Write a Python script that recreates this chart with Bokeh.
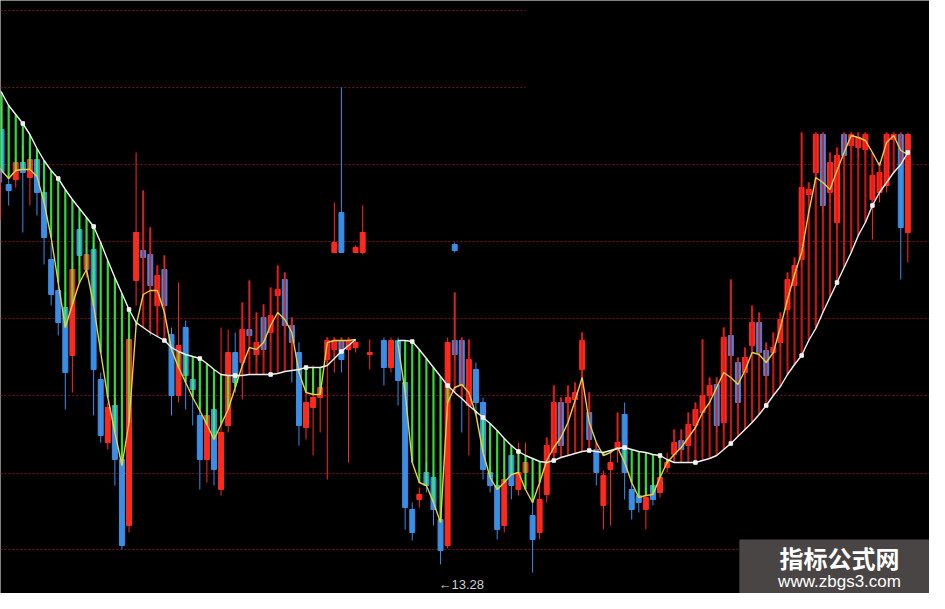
import numpy as np
from bokeh.plotting import figure
from bokeh.models import Range1d, ColumnDataSource, Label, BoxAnnotation
from bokeh.embed import file_html
from bokeh.resources import INLINE

nan = float("nan")

# ---- data (price units) ----
bar_open = [16.73,17.63,17.08,17.13,17.30,17.15,17.33,17.00,16.33,16.02,
 15.85,15.37,16.63,16.23,16.43,15.13,14.50,14.87,14.33,13.67,
 16.12,16.42,16.38,15.87,16.23,15.58,14.97,15.65,15.13,14.77,
 14.33,14.83,14.03,14.67,15.40,15.30,15.63,15.38,15.75,15.60,
 15.97,16.13,15.67,15.40,14.65,14.85,14.95,15.33,15.43,15.52,
 15.43,15.45,nan,15.38,nan,15.52,15.25,15.52,15.10,13.83,
 13.93,14.20,14.15,13.73,13.47,15.52,15.52,14.87,15.23,14.90,
 14.20,14.07,13.67,14.37,14.03,14.20,13.77,13.60,13.98,14.40,
 14.90,14.90,14.93,15.23,14.80,14.43,13.87,14.23,14.43,14.78,
 14.03,13.97,13.83,14.07,14.00,14.25,14.38,14.52,14.47,14.67,
 14.80,14.97,15.08,14.70,15.57,15.30,15.20,15.47,15.70,15.42,
 15.40,15.50,15.83,16.07,16.33,16.98,17.20,17.58,17.00,16.70,
 17.58,17.47,17.45,17.43,16.93,17.00,17.07,17.53,17.58,16.60]

bar_high = [17.35,17.87,17.20,17.35,17.47,17.40,17.40,17.05,16.50,16.10,
 16.00,16.30,16.75,16.45,16.50,15.20,14.90,14.95,14.40,15.60,
 17.40,17.02,16.65,16.27,16.37,15.65,16.10,15.72,15.33,14.90,
 14.85,14.90,15.65,15.63,15.60,15.90,16.12,15.80,15.88,16.05,
 16.27,16.20,15.75,15.50,15.00,15.27,15.20,15.55,15.55,15.55,
 15.55,15.52,nan,15.53,nan,15.55,15.55,15.55,15.15,13.90,
 14.05,14.30,14.22,13.80,15.55,16.00,15.55,15.53,15.30,14.95,
 14.25,14.12,14.50,14.45,14.50,14.50,14.33,14.27,14.55,15.07,
 14.95,15.07,15.10,15.60,15.00,14.50,14.22,14.40,14.80,14.90,
 14.10,14.05,14.05,14.15,14.22,14.40,14.63,14.63,14.80,14.90,
 15.53,15.15,15.15,15.65,16.13,15.35,15.45,15.87,15.80,15.50,
 15.60,15.80,16.20,16.35,17.60,17.10,17.60,17.60,17.40,17.45,
 17.60,17.60,17.60,17.60,17.25,17.30,17.60,17.60,17.60,17.60]

bar_low = [16.68,17.10,16.87,17.05,16.60,16.87,16.77,16.28,15.87,15.57,
 14.83,15.00,16.27,16.15,14.77,14.50,14.43,14.07,13.43,13.60,
 15.87,15.97,15.57,15.70,15.57,14.77,14.90,14.83,14.67,14.03,
 14.10,14.07,13.97,14.60,15.00,14.93,15.50,15.30,15.35,15.50,
 15.80,15.57,15.10,14.47,14.53,14.37,14.60,14.13,15.20,15.20,
 14.30,15.40,nan,15.23,nan,15.07,15.20,14.87,13.63,13.52,
 13.85,14.00,13.67,13.28,13.44,15.32,14.60,14.37,14.80,14.13,
 14.00,13.53,13.60,13.93,13.97,14.05,13.20,13.53,13.90,14.35,
 14.37,14.70,14.80,14.53,14.45,14.07,13.63,13.67,14.30,13.93,
 13.73,13.80,13.63,13.87,13.95,14.20,14.30,14.35,14.40,14.60,
 14.75,14.90,14.60,14.63,15.32,14.85,15.15,15.40,15.35,15.12,
 15.30,15.45,15.78,16.00,16.25,16.90,17.15,16.80,16.90,16.63,
 17.30,17.40,17.35,17.38,16.53,16.90,17.00,17.50,16.13,16.30]

bar_close = [17.27,17.20,17.02,17.30,17.20,17.33,17.00,16.55,15.98,15.70,
 15.20,16.23,16.37,16.38,15.23,14.57,14.85,14.33,13.47,15.53,
 16.60,16.35,16.07,16.17,15.87,14.97,15.47,15.17,15.03,14.33,
 14.77,14.23,14.60,15.40,15.10,15.63,15.57,15.50,15.43,15.77,
 16.03,15.67,15.50,14.67,14.90,14.95,15.05,15.52,15.52,15.33,
 15.52,15.50,nan,15.40,nan,15.25,15.52,15.12,13.85,13.60,
 13.98,14.07,13.83,13.42,15.50,15.38,15.07,15.33,14.90,14.23,
 14.07,13.63,14.13,14.07,14.20,14.30,13.53,13.93,14.47,14.90,
 14.47,14.95,15.00,15.52,14.53,14.20,14.17,14.30,14.50,14.20,
 13.83,13.90,13.95,13.93,14.15,14.30,14.50,14.43,14.68,14.83,
 14.97,15.07,14.67,15.55,15.37,14.90,15.35,15.70,15.40,15.17,
 15.45,15.73,16.13,16.27,17.05,17.03,17.58,16.87,17.30,17.37,
 17.37,17.58,17.55,17.58,17.17,17.20,17.58,17.58,16.65,17.58]

fast_line = [17.30,17.22,17.14,17.22,17.23,17.23,17.16,16.90,16.55,16.10,
 15.65,15.88,16.10,16.23,15.87,15.40,14.95,14.60,14.27,14.70,
 15.67,15.98,16.02,16.02,15.80,15.43,15.25,15.10,14.95,14.82,
 14.68,14.53,14.68,14.83,15.05,15.27,15.45,15.43,15.50,15.67,
 15.80,15.73,15.60,15.20,15.00,14.98,14.98,15.50,15.52,15.52,
 15.52,15.53,nan,nan,nan,nan,nan,15.48,15.00,14.30,
 14.10,14.07,13.90,13.70,14.90,15.05,15.08,15.00,14.78,14.40,
 14.15,14.03,14.10,14.18,14.20,14.03,13.90,14.10,14.32,14.45,
 14.55,14.70,14.92,15.15,14.70,14.50,14.37,14.40,14.45,14.30,
 14.10,13.95,13.97,13.98,14.15,14.30,14.38,14.45,14.55,14.65,
 14.80,14.90,15.05,15.20,15.15,15.08,15.22,15.40,15.38,15.30,
 15.40,15.65,15.93,16.18,16.40,16.80,17.15,17.10,17.03,17.22,
 17.40,17.57,17.55,17.52,17.40,17.27,17.50,17.57,17.42,17.38]

slow_line = [18.08,18.00,17.87,17.78,17.69,17.58,17.44,17.32,17.22,17.14,
 17.03,16.93,16.84,16.75,16.66,16.50,16.32,16.15,15.99,15.83,
 15.70,15.65,15.60,15.56,15.52,15.45,15.41,15.38,15.36,15.34,
 15.29,15.23,15.18,15.17,15.17,15.17,15.18,15.18,15.18,15.18,
 15.19,15.21,15.22,15.23,15.25,15.25,15.25,15.27,15.34,15.41,
 15.47,15.53,nan,nan,nan,nan,nan,15.52,15.52,15.51,
 15.43,15.34,15.25,15.16,15.07,15.00,14.94,14.87,14.81,14.75,
 14.69,14.62,14.54,14.47,14.41,14.37,14.34,14.31,14.30,14.32,
 14.35,14.37,14.39,14.41,14.42,14.41,14.40,14.42,14.44,14.45,
 14.43,14.41,14.40,14.38,14.37,14.33,14.30,14.30,14.30,14.30,
 14.32,14.34,14.37,14.43,14.49,14.56,14.63,14.70,14.78,14.87,
 14.97,15.06,15.18,15.28,15.37,15.52,15.64,15.80,15.95,16.10,
 16.25,16.40,16.57,16.70,16.87,17.00,17.10,17.20,17.28,17.40]

# separate pasted fragment of candles (upper)
frag_index = [48, 49, 51, 52, 65]
frag_open = [16.40, 16.80, 16.40, 16.40, 16.48]
frag_high = [16.90, 18.05, 16.47, 16.87, 16.50]
frag_low = [16.40, 16.40, 16.40, 16.38, 16.40]
frag_close = [16.50, 16.40, 16.45, 16.60, 16.42]

grid_levels = [18.82, 18.05, 17.28, 16.51, 15.74, 14.97, 14.19, 13.43]
low_mark_index = 63
low_mark_text = "\u219013.28"
watermark_title = "指标公式网"
watermark_url = "www.zbgs3.com"

# ---- styles ----
RED = "#ff2a1e"
BLUE = "#3a8ee6"
HATCH_GREEN = "#3cff3c"
HATCH_RED = "#e01a1a"
FAST_COLOR = "#e6d04a"
SLOW_COLOR = "#f2f2f2"
GRID_COLOR = "#7a1818"

n = len(bar_open)
idx = np.arange(n, dtype=float)
o = np.array(bar_open); h = np.array(bar_high); l = np.array(bar_low); c = np.array(bar_close)
fast = np.array(fast_line); slow = np.array(slow_line)

p = figure(width=929, height=593, output_backend="svg", toolbar_location=None,
           x_range=Range1d(0.847, 132.06), y_range=Range1d(12.99, 18.92),
           min_border=0, background_fill_color="#000000", border_fill_color="#000000",
           outline_line_color=None)
p.axis.visible = False
p.grid.visible = False

# grid (first two levels only on left part)
gx0 = [-2.0] * len(grid_levels)
gx1 = [75.0, 75.0] + [140.0] * (len(grid_levels) - 2)
p.segment(x0=gx0, y0=grid_levels, x1=gx1, y1=grid_levels, line_color=GRID_COLOR,
          line_width=1.2, line_dash="2 2")

# candles
valid = ~np.isnan(o)
colors = np.where(c >= o, RED, BLUE)
src = ColumnDataSource(dict(x=idx[valid], o=o[valid], h=h[valid], l=l[valid], c=c[valid],
                            top=np.maximum(o, c)[valid], bot=np.minimum(o, c)[valid],
                            col=colors[valid]))
p.segment(x0="x", y0="h", x1="x", y1="l", source=src, line_color="col", line_width=1)
p.vbar(x="x", top="top", bottom="bot", width=0.7, source=src, fill_color="col",
       line_color="col", line_width=1)

fo = np.array(frag_open); fc = np.array(frag_close)
fsrc = ColumnDataSource(dict(x=frag_index, h=frag_high, l=frag_low,
                             top=np.maximum(fo, fc), bot=np.minimum(fo, fc),
                             col=np.where(fc >= fo, RED, BLUE)))
p.segment(x0="x", y0="h", x1="x", y1="l", source=fsrc, line_color="col", line_width=1)
p.vbar(x="x", top="top", bottom="bot", width=0.7, source=fsrc, fill_color="col",
       line_color="col", line_width=1)

# hatch between lines
lv = ~np.isnan(fast) & ~np.isnan(slow)
dn = lv & (fast < slow)
up = lv & (fast >= slow)
red_top = np.where(np.isnan(h), fast, np.maximum(fast, h))
p.segment(x0=idx[dn], y0=slow[dn], x1=idx[dn], y1=fast[dn], line_color=HATCH_GREEN,
          line_width=2.2, line_alpha=0.85)
p.segment(x0=idx[up], y0=slow[up], x1=idx[up], y1=red_top[up], line_color=HATCH_RED,
          line_width=2.2, line_alpha=0.85)

# lines
p.line(idx, fast, line_color=FAST_COLOR, line_width=1.4)
p.line(idx, slow, line_color=SLOW_COLOR, line_width=1.4)
mk = (np.arange(n) % 5 == 4) & ~np.isnan(slow)
p.scatter(idx[mk], slow[mk], marker="square", size=3.5, fill_color=SLOW_COLOR,
          line_color=SLOW_COLOR)

# low marker text
p.add_layout(Label(x=low_mark_index, y=bar_low[low_mark_index], text=low_mark_text,
                   y_offset=-12, x_offset=-2, text_baseline="top", text_align="left",
                   text_color="#d0d0d0", text_font_size="13px",
                   text_font="Liberation Sans"))

# watermark
p.add_layout(BoxAnnotation(left=105.2, right=140, bottom=11.0, top=13.53,
                           fill_color="#4a4545", fill_alpha=1.0, line_color=None))
p.add_layout(Label(x=119.35, y=13.35, text=watermark_title, text_align="center",
                   text_baseline="middle", text_color="#ffffff", text_font_size="24px",
                   text_font_style="bold", text_font="Noto Sans CJK SC"))
p.add_layout(Label(x=119.35, y=13.11, text=watermark_url, text_align="center",
                   text_baseline="middle", text_color="#ffffff", text_font_size="17px",
                   text_font="Liberation Sans"))

open("out.html", "w").write(file_html(p, INLINE))
